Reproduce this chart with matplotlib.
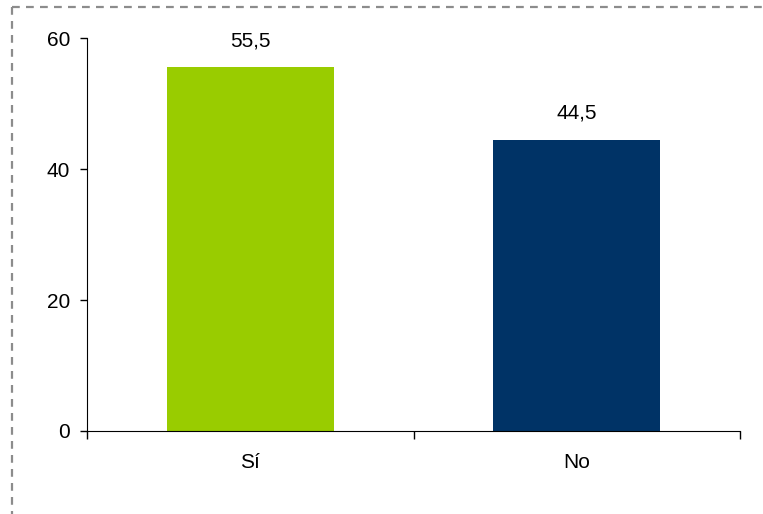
import matplotlib
matplotlib.use('Agg')
import matplotlib.pyplot as plt
from matplotlib.lines import Line2D

categories = ['Sí', 'No']
values = [55.5, 44.5]
labels = ['55,5', '44,5']
colors = ['#99CC00', '#003366']

plt.rcParams['font.family'] = ['Liberation Sans', 'DejaVu Sans']
fs = 15

fig = plt.figure(figsize=(7.63, 5.14), dpi=100)
ax = fig.add_axes([87/763, 1-431/514, (740-87)/763, (431-38)/514])

x = list(range(len(categories)))
ax.bar(x, values, width=0.51, color=colors)
for xi, v, lab in zip(x, values, labels):
    ax.annotate(lab, (xi, v), xytext=(0, 15), textcoords='offset points',
                ha='center', va='baseline', fontsize=fs)

ax.set_xlim(-0.5, 1.5)
ax.set_ylim(0, 60)
ax.set_yticks([0, 20, 40, 60])
ax.tick_params(axis='y', labelsize=fs, length=5, width=1, pad=7)
ax.set_xticks(x)
ax.set_xticklabels(categories)
ax.tick_params(axis='x', which='major', length=0, labelsize=fs, pad=16)
ax.set_xticks([-0.5, 0.5, 1.5], minor=True)
ax.tick_params(axis='x', which='minor', length=6, width=1)
for s in ['top', 'right']:
    ax.spines[s].set_visible(False)

# dashed frame around the chart area
top = 1 - 7/514
left = 12/763
fig.add_artist(Line2D([left, 1.0], [top, top], transform=fig.transFigure,
                      color='#8c8c8c', lw=1.6, dashes=(3.5, 2.8)))
fig.add_artist(Line2D([left, left], [top, 0.0], transform=fig.transFigure,
                      color='#8c8c8c', lw=1.6, dashes=(3.5, 2.8)))

fig.savefig('out.png', dpi=100)
